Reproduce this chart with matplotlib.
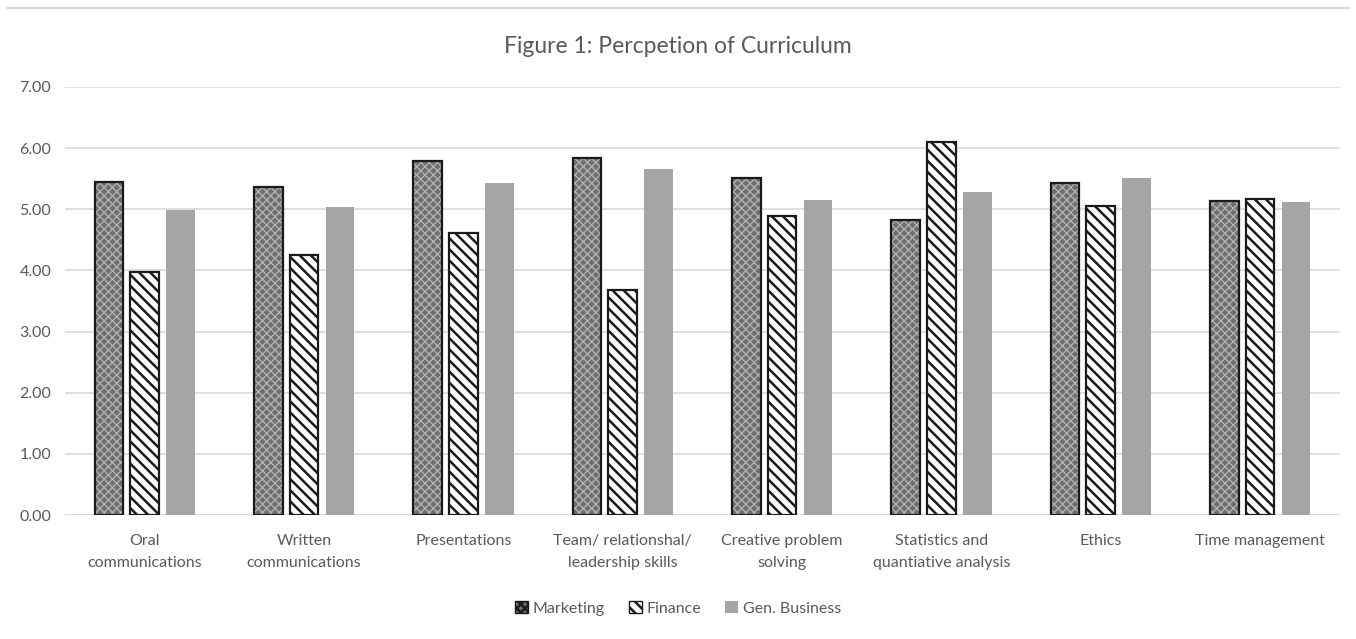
import matplotlib
matplotlib.use("Agg")
import matplotlib.pyplot as plt
import numpy as np
from matplotlib.patches import Patch
from matplotlib.lines import Line2D

plt.rcParams["font.family"] = ["Lato", "DejaVu Sans"]

categories = [
    "Oral\ncommunications",
    "Written\ncommunications",
    "Presentations",
    "Team/ relationshal/\nleadership skills",
    "Creative problem\nsolving",
    "Statistics and\nquantiative analysis",
    "Ethics",
    "Time management",
]
marketing = [5.45, 5.36, 5.79, 5.84, 5.51, 4.82, 5.43, 5.13]
finance = [3.97, 4.25, 4.61, 3.68, 4.89, 6.10, 5.05, 5.17]
gen_business = [4.99, 5.04, 5.43, 5.66, 5.15, 5.28, 5.51, 5.12]

TEXT = "#595959"
GRID = "#d9d9d9"
MKT_FACE = "#6f6f6f"
MKT_HATCH = "#b4b4b4"

fig = plt.figure(figsize=(13.56, 6.39), dpi=100)
ax = fig.add_axes([0.048, 0.194, 0.940, 0.670])

x = np.arange(len(categories))
w = 0.18
gap = 0.225

# Marketing: dotted gray fill with black outline
plt.rcParams["hatch.linewidth"] = 0.9
ax.bar(x - gap, marketing, w, color=MKT_FACE, edgecolor=MKT_HATCH,
       hatch="xxxx", linewidth=0, zorder=2)
ax.bar(x - gap, marketing, w, fill=False, edgecolor="#1a1a1a",
       linewidth=1.6, zorder=3)
mkt_handle = Patch(facecolor=MKT_FACE, edgecolor="#1a1a1a", hatch="xxxx")

# Finance: white with diagonal stripes
plt.rcParams["hatch.linewidth"] = 1.8
ax.bar(x, finance, w, color="white", edgecolor="#1a1a1a",
       hatch="\\\\\\", linewidth=0, zorder=2)
ax.bar(x, finance, w, fill=False, edgecolor="#1a1a1a",
       linewidth=1.6, zorder=3)
fin_handle = Patch(facecolor="white", edgecolor="#1a1a1a", hatch="\\\\\\")

# Gen. Business: solid gray
ax.bar(x + gap, gen_business, w, color="#a5a5a5", linewidth=0, zorder=2)
gen_handle = Patch(facecolor="#a5a5a5", edgecolor="none")

ax.set_xlim(-0.5, len(categories) - 0.5)
ax.set_ylim(0, 7)
ax.set_yticks(np.arange(0, 8, 1))
ax.set_yticklabels([f"{v:.2f}" for v in range(8)])
ax.set_xticks(x)
ax.set_xticklabels(categories, linespacing=1.7)
ax.tick_params(axis="both", length=0, labelsize=11.5, labelcolor=TEXT)
ax.tick_params(axis="y", pad=10)
ax.tick_params(axis="x", pad=14)
ax.grid(axis="y", color=GRID, linewidth=1.2, zorder=0)
for s in ax.spines.values():
    s.set_visible(False)
ax.axhline(0, color=GRID, linewidth=1.2, zorder=1)

fig.text(0.5, 0.928, "Figure 1: Percpetion of Curriculum", ha="center",
         va="center", fontsize=16.5, color=TEXT)
fig.add_artist(Line2D([0.005, 0.995], [0.988, 0.988], color="#d9d9d9",
                      linewidth=1.5, transform=fig.transFigure))

fig.legend([mkt_handle, fin_handle, gen_handle],
           ["Marketing", "Finance", "Gen. Business"], loc="center",
           bbox_to_anchor=(0.5, 0.048), ncol=3, frameon=False, fontsize=11.5,
           labelcolor=TEXT, handlelength=0.8, handleheight=0.8,
           handletextpad=0.3, columnspacing=1.5)

fig.savefig("out.png", dpi=100)
